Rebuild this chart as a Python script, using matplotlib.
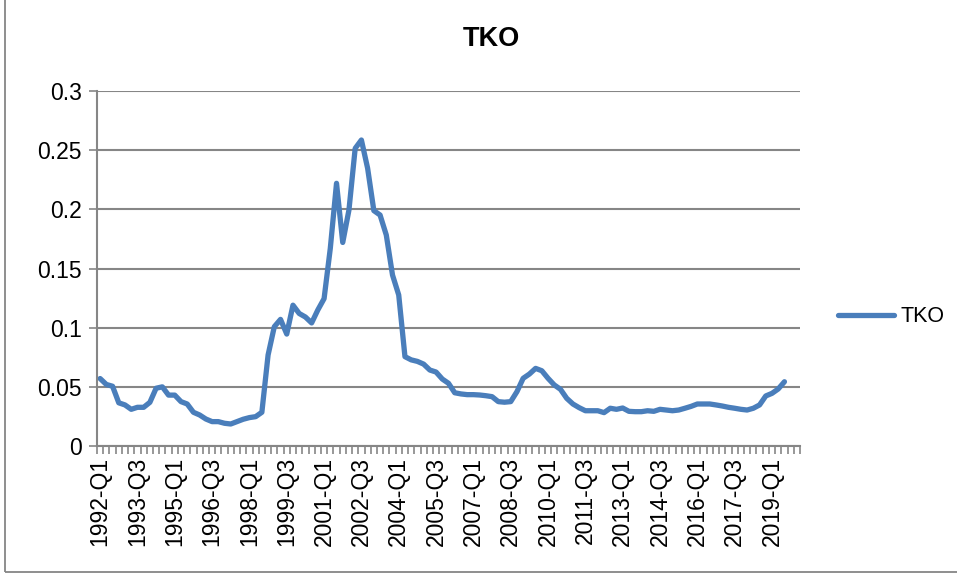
import numpy as np
import matplotlib.pyplot as plt
from matplotlib.patches import Rectangle

plt.rcParams['font.family'] = ['Liberation Sans', 'DejaVu Sans']

# quarterly categories on the axis: 1992-Q1 .. 2020-Q1
quarters = [f"{y}-Q{q}" for y in range(1992, 2021) for q in range(1, 5)][:113]

# TKO values, 1992-Q1 .. 2019-Q3
tko = [0.057, 0.052, 0.0505, 0.0365, 0.0347, 0.031, 0.0327, 0.0327, 0.0369, 0.0488,
       0.050, 0.043, 0.043, 0.0375, 0.0355, 0.0285, 0.0262, 0.0228, 0.0206, 0.0206,
       0.0192, 0.0186, 0.0206, 0.0226, 0.024, 0.0248, 0.0285, 0.0769, 0.1008, 0.107,
       0.0946, 0.119, 0.112, 0.109, 0.104, 0.115, 0.1245, 0.167, 0.222, 0.172,
       0.1995, 0.2515, 0.2586, 0.2347, 0.1989, 0.1952, 0.1783, 0.1445, 0.1276, 0.0755,
       0.0728, 0.0715, 0.0692, 0.0642, 0.0625, 0.0566, 0.053, 0.045, 0.044, 0.0434,
       0.0434, 0.0431, 0.0425, 0.0417, 0.0375, 0.037, 0.0375, 0.0459, 0.0572, 0.0608,
       0.0656, 0.0636, 0.0572, 0.0516, 0.0479, 0.0403, 0.0355, 0.0324, 0.0298, 0.0298,
       0.0298, 0.0282, 0.0319, 0.031, 0.0321, 0.0293, 0.029, 0.029, 0.0298, 0.0293,
       0.031, 0.0304, 0.0298, 0.0304, 0.0319, 0.0335, 0.0355, 0.0355, 0.0355, 0.0347,
       0.0338, 0.0327, 0.0319, 0.031, 0.0304, 0.0319, 0.0347, 0.0423, 0.0445, 0.0482,
       0.0543]

yticks = [0, 0.05, 0.1, 0.15, 0.2, 0.25, 0.3]
ylabels = ["0", "0.05", "0.1", "0.15", "0.2", "0.25", "0.3"]

grey = '#868686'

fig = plt.figure(figsize=(9.57, 5.75), dpi=100)
ax = fig.add_axes([97/957, 1-446/575, (800-97)/957, (446-91)/575])

x = np.arange(len(tko))
line, = ax.plot(x, tko, color='#4a7ebb', lw=3.8, solid_joinstyle='round',
                solid_capstyle='round', label='TKO')

ax.set_xlim(-0.5, len(quarters) - 0.5)
ax.set_ylim(0, 0.3)
ax.set_yticks(yticks)
ax.set_yticklabels(ylabels, fontsize=16.5)
ax.yaxis.grid(True, color=grey, lw=1.5)
ax.set_axisbelow(True)

lab_pos = np.arange(0, len(quarters), 6)
ax.set_xticks(lab_pos)
ax.set_xticklabels([quarters[i] for i in lab_pos], rotation=90, fontsize=16.5)
ax.tick_params(axis='x', which='major', length=0, pad=8)
ax.set_xticks(np.arange(-0.5, len(quarters)), minor=True)
ax.tick_params(axis='x', which='minor', length=6, width=1.2, color=grey)
ax.tick_params(axis='y', length=6, width=1.2, color=grey, pad=5)

for s in ['top', 'right']:
    ax.spines[s].set_visible(False)
for s in ['left', 'bottom']:
    ax.spines[s].set_color(grey)
    ax.spines[s].set_linewidth(1.5)

fig.text(491/957, 1-39/575, 'TKO', ha='center', va='center',
         fontsize=19.5, fontweight='bold')

fig.legend(handles=[line], loc='center left', bbox_to_anchor=(819/957, 1-317/575),
           frameon=False, fontsize=15.5, handlelength=2.6, handletextpad=0.3)

fig.patches.append(Rectangle((5/957, 3/575), 1.2, 1.2, transform=fig.transFigure,
                             fill=False, edgecolor=grey, lw=1.3))

fig.savefig('out.png', dpi=100)
